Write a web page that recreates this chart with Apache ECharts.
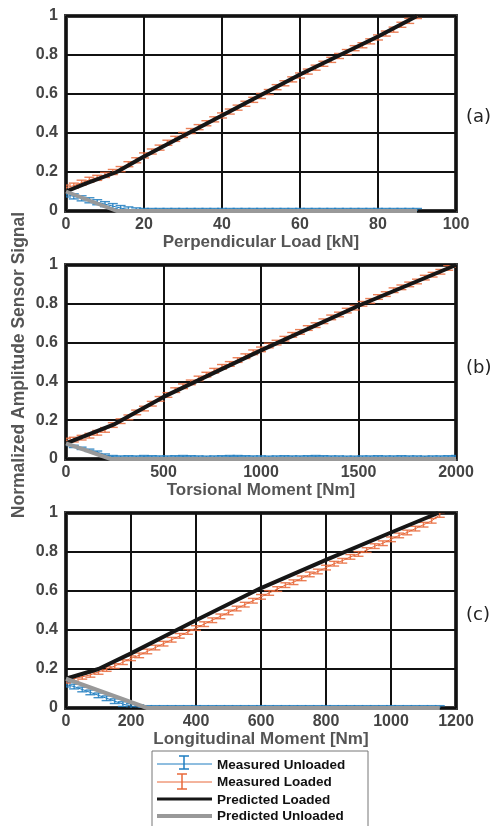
<!DOCTYPE html>
<html>
<head>
<meta charset="utf-8">
<script src="https://cdn.jsdelivr.net/npm/echarts@6/dist/echarts.min.js"></script>
<style>html,body{margin:0;padding:0;background:#fff}#c{width:497px;height:826px}</style>
</head>
<body>
<div id="c"></div>
<script>
// ---------- Panel (a): Perpendicular Load ----------
const aX = [0,2,4,6,8,10,12,14,16,18,20,22,24,26,28,30,32,34,36,38,40,42,44,46,48,50,52,54,56,58,60,62,64,66,68,70,72,74,76,78,80,82,84,86,88,90];
const aLoaded = [0.12,0.13,0.145,0.16,0.17,0.185,0.20,0.215,0.24,0.26,0.285,0.305,0.325,0.35,0.37,0.39,0.41,0.43,0.45,0.47,0.49,0.51,0.53,0.55,0.57,0.59,0.61,0.635,0.655,0.675,0.695,0.715,0.735,0.755,0.775,0.795,0.815,0.835,0.85,0.87,0.89,0.91,0.93,0.955,0.975,1.0];
const aUnloaded = [0.085,0.075,0.065,0.055,0.045,0.035,0.025,0.015,0.008,0.003,0,0,0,0,0,0,0,0,0,0,0,0,0,0,0,0,0,0,0,0,0,0,0,0,0,0,0,0,0,0,0,0,0,0,0,0];
const aErrLoaded = 0.013, aErrUnloaded = 0.013;
const aPredX = [0,5,13,20,40,60,80,90];
const aPredLoaded = [0.10,0.14,0.20,0.28,0.49,0.70,0.895,1.0];
const aPredUnX = [0,13,90];
const aPredUnloaded = [0.10,0,0];

// ---------- Panel (b): Torsional Moment ----------
const bX = [0,40,80,120,160,200,240,280,320,360,400,440,480,520,560,600,640,680,720,760,800,840,880,920,960,1000,1040,1080,1120,1160,1200,1240,1280,1320,1360,1400,1440,1480,1520,1560,1600,1640,1680,1720,1760,1800,1840,1880,1920,1960,2000];
const bLoaded = [0.095,0.10,0.11,0.12,0.135,0.15,0.175,0.195,0.215,0.24,0.26,0.285,0.31,0.33,0.355,0.375,0.395,0.415,0.435,0.455,0.475,0.49,0.51,0.53,0.55,0.565,0.585,0.60,0.62,0.64,0.655,0.675,0.69,0.71,0.73,0.745,0.765,0.78,0.80,0.815,0.835,0.85,0.87,0.885,0.90,0.915,0.935,0.95,0.965,0.985,1.0];
const bUnloaded = [0.075,0.065,0.055,0.045,0.035,0.02,0.012,0.01,0.011,0.01,0.012,0.011,0.01,0.01,0.011,0.012,0.011,0.01,0.009,0.01,0.011,0.012,0.012,0.011,0.01,0.01,0.009,0.01,0.011,0.01,0.01,0.011,0.012,0.011,0.01,0.01,0.009,0.009,0.01,0.01,0.011,0.01,0.01,0.011,0.01,0.01,0.009,0.01,0.01,0.011,0.012];
const bErrLoaded = 0.012, bErrUnloaded = 0.006;
const bPredX = [0,250,500,1000,1500,2000];
const bPredLoaded = [0.08,0.18,0.32,0.56,0.79,1.0];
const bPredUnX = [0,230,2000];
const bPredUnloaded = [0.08,0,0];

// ---------- Panel (c): Longitudinal Moment ----------
const cX = [0,25,50,75,100,125,150,175,200,225,250,275,300,325,350,375,400,425,450,475,500,525,550,575,600,625,650,675,700,725,750,775,800,825,850,875,900,925,950,975,1000,1025,1050,1075,1100,1125,1150];
const cLoaded = [0.14,0.15,0.16,0.17,0.185,0.20,0.215,0.235,0.255,0.27,0.29,0.31,0.33,0.35,0.37,0.39,0.41,0.43,0.45,0.47,0.49,0.51,0.53,0.55,0.57,0.59,0.61,0.63,0.645,0.665,0.685,0.70,0.72,0.74,0.755,0.775,0.79,0.81,0.83,0.845,0.865,0.885,0.90,0.92,0.94,0.96,0.99];
const cUnloaded = [0.12,0.11,0.095,0.08,0.065,0.05,0.035,0.02,0.01,0.004,0,0,0,0,0,0,0,0,0,0,0,0,0,0,0,0,0,0,0,0,0,0,0,0,0,0,0,0,0,0,0,0,0,0,0,0,0];
const cErrLoaded = 0.012, cErrUnloaded = 0.012;
const cPredX = [0,100,200,300,400,600,800,1000,1145];
const cPredLoaded = [0.15,0.20,0.28,0.365,0.45,0.615,0.76,0.90,1.0];
const cPredUnX = [0,250,1150];
const cPredUnloaded = [0.15,0,0];

const xNames = ['Perpendicular Load [kN]','Torsional Moment [Nm]','Longitudinal Moment [Nm]'];
const xMax = [100,2000,1200];
const xInterval = [20,500,200];
const panelTags = ['(a)','(b)','(c)'];
const yTitle = 'Normalized Amplitude Sensor Signal';
const legendNames = ['Measured Unloaded','Measured Loaded','Predicted Loaded','Predicted Unloaded'];

const BLUE = '#1E7CC0', ORANGE = '#E8683A', BLACK = '#161616', GRAY = '#999999';
const FONT = '"Liberation Sans", Arial, sans-serif';

const panels = [
  {x:aX, L:aLoaded, U:aUnloaded, eL:aErrLoaded, eU:aErrUnloaded, px:aPredX, pl:aPredLoaded, pux:aPredUnX, pu:aPredUnloaded},
  {x:bX, L:bLoaded, U:bUnloaded, eL:bErrLoaded, eU:bErrUnloaded, px:bPredX, pl:bPredLoaded, pux:bPredUnX, pu:bPredUnloaded},
  {x:cX, L:cLoaded, U:cUnloaded, eL:cErrLoaded, eU:cErrUnloaded, px:cPredX, pl:cPredLoaded, pux:cPredUnX, pu:cPredUnloaded}
];
const gridTops = [16, 265, 513];
const gridH = [195, 194, 195];

function errRender(color, cap) {
  return function (params, api) {
    const x = api.value(0), y = api.value(1), e = api.value(2);
    const lo = api.coord([x, y - e]), hi = api.coord([x, y + e]);
    const st = {stroke: color, lineWidth: 1.4, opacity: 0.85};
    return {type: 'group', children: [
      {type: 'line', shape: {x1: lo[0], y1: lo[1], x2: hi[0], y2: hi[1]}, style: st},
      {type: 'line', shape: {x1: lo[0] - cap, y1: lo[1], x2: lo[0] + cap, y2: lo[1]}, style: st},
      {type: 'line', shape: {x1: hi[0] - cap, y1: hi[1], x2: hi[0] + cap, y2: hi[1]}, style: st}
    ]};
  };
}
function zip(xs, ys) { return xs.map((v, i) => [v, ys[i]]); }
function zipE(xs, ys, e) { return xs.map((v, i) => [v, ys[i], e]); }

const grids = [], xAxes = [], yAxes = [], series = [];
panels.forEach((p, i) => {
  grids.push({left: 66, width: 390, top: gridTops[i], height: gridH[i], show: true,
    borderColor: '#3a3a3a', borderWidth: 4, backgroundColor: '#fff'});
  xAxes.push({type: 'value', gridIndex: i, min: 0, max: xMax[i], interval: xInterval[i],
    name: xNames[i], nameLocation: 'middle', nameGap: 22,
    nameTextStyle: {fontFamily: FONT, fontWeight: 'bold', fontSize: 17, color: '#555'},
    axisLine: {show: false}, axisTick: {show: false},
    axisLabel: {fontFamily: FONT, fontWeight: 'bold', fontSize: 16, color: '#444', margin: 6,
      formatter: v => String(v)},
    splitLine: {show: true, lineStyle: {color: '#111', width: 2}}});
  yAxes.push({type: 'value', gridIndex: i, min: 0, max: 1, interval: 0.2,
    axisLine: {show: false}, axisTick: {show: false},
    axisLabel: {fontFamily: FONT, fontWeight: 'bold', fontSize: 16, color: '#444', margin: 8,
      formatter: v => String(Math.round(v * 10) / 10)},
    splitLine: {show: true, lineStyle: {color: '#111', width: 2}}});
  series.push({type: 'line', xAxisIndex: i, yAxisIndex: i, data: zip(p.x, p.U), showSymbol: false,
    lineStyle: {color: BLUE, width: 1}, z: 2});
  series.push({type: 'custom', xAxisIndex: i, yAxisIndex: i, data: zipE(p.x, p.U, p.eU),
    renderItem: errRender(BLUE, 5), clip: true, z: 2});
  series.push({type: 'line', xAxisIndex: i, yAxisIndex: i, data: zip(p.x, p.L), showSymbol: false,
    lineStyle: {color: ORANGE, width: 1}, z: 3});
  series.push({type: 'custom', xAxisIndex: i, yAxisIndex: i, data: zipE(p.x, p.L, p.eL),
    renderItem: errRender(ORANGE, 5), clip: true, z: 3});
  series.push({type: 'line', xAxisIndex: i, yAxisIndex: i, data: zip(p.px, p.pl), showSymbol: false,
    lineStyle: {color: BLACK, width: 4}, z: 4});
  series.push({type: 'line', xAxisIndex: i, yAxisIndex: i, data: zip(p.pux, p.pu), showSymbol: false,
    lineStyle: {color: GRAY, width: 4}, z: 5});
});

const graphic = [
  {type: 'text', x: 19, y: 365, rotation: Math.PI / 2,
    style: {text: yTitle, fill: '#555', font: 'bold 17.5px ' + FONT, align: 'center', verticalAlign: 'middle'}},
  {type: 'text', x: 466, y: 117, style: {text: panelTags[0], fill: '#222', font: '18px "DejaVu Sans"', verticalAlign: 'middle'}},
  {type: 'text', x: 466, y: 368, style: {text: panelTags[1], fill: '#222', font: '18px "DejaVu Sans"', verticalAlign: 'middle'}},
  {type: 'text', x: 466, y: 615, style: {text: panelTags[2], fill: '#222', font: '18px "DejaVu Sans"', verticalAlign: 'middle'}},
  // legend box
  {type: 'rect', shape: {x: 152, y: 751, width: 216, height: 80}, style: {fill: '#fff', stroke: '#777', lineWidth: 1}},
  {type: 'line', shape: {x1: 157, y1: 764, x2: 212, y2: 764}, style: {stroke: BLUE, lineWidth: 1}},
  {type: 'line', shape: {x1: 184, y1: 756, x2: 184, y2: 769}, style: {stroke: BLUE, lineWidth: 1.5}},
  {type: 'line', shape: {x1: 179, y1: 756, x2: 189, y2: 756}, style: {stroke: BLUE, lineWidth: 1.5}},
  {type: 'line', shape: {x1: 179, y1: 769, x2: 189, y2: 769}, style: {stroke: BLUE, lineWidth: 1.5}},
  {type: 'line', shape: {x1: 157, y1: 782, x2: 212, y2: 782}, style: {stroke: ORANGE, lineWidth: 1}},
  {type: 'line', shape: {x1: 182, y1: 774, x2: 182, y2: 789}, style: {stroke: ORANGE, lineWidth: 1.5}},
  {type: 'line', shape: {x1: 177, y1: 774, x2: 187, y2: 774}, style: {stroke: ORANGE, lineWidth: 1.5}},
  {type: 'line', shape: {x1: 177, y1: 789, x2: 187, y2: 789}, style: {stroke: ORANGE, lineWidth: 1.5}},
  {type: 'line', shape: {x1: 157, y1: 799, x2: 212, y2: 799}, style: {stroke: BLACK, lineWidth: 3}},
  {type: 'line', shape: {x1: 157, y1: 816, x2: 212, y2: 816}, style: {stroke: GRAY, lineWidth: 4}},
  {type: 'text', x: 217, y: 765, style: {text: legendNames[0], fill: '#111', font: 'bold 13.5px ' + FONT, verticalAlign: 'middle'}},
  {type: 'text', x: 217, y: 782, style: {text: legendNames[1], fill: '#111', font: 'bold 13.5px ' + FONT, verticalAlign: 'middle'}},
  {type: 'text', x: 217, y: 800, style: {text: legendNames[2], fill: '#111', font: 'bold 13.5px ' + FONT, verticalAlign: 'middle'}},
  {type: 'text', x: 217, y: 816, style: {text: legendNames[3], fill: '#111', font: 'bold 13.5px ' + FONT, verticalAlign: 'middle'}}
];

const chart = echarts.init(document.getElementById('c'), null, {renderer: 'canvas'});
chart.setOption({animation: false, backgroundColor: '#fff', grid: grids, xAxis: xAxes, yAxis: yAxes, series: series, graphic: graphic});
</script>
</body>
</html>
